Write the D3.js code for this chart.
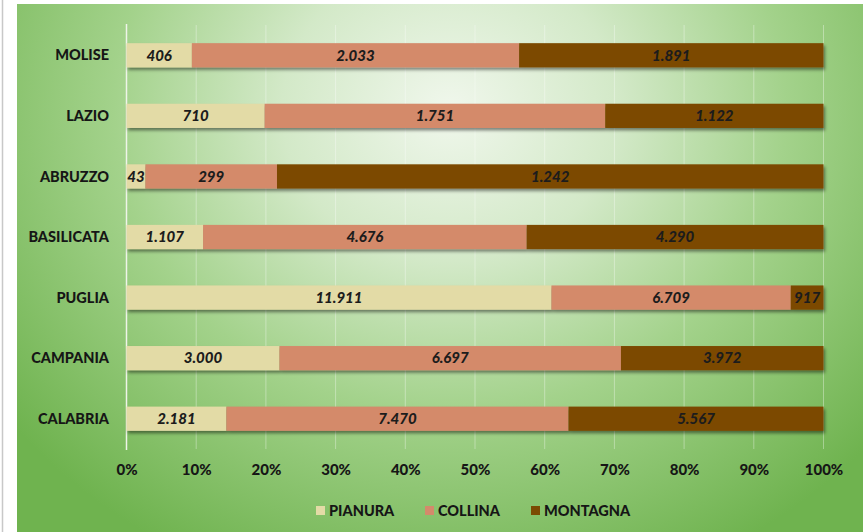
<!DOCTYPE html>
<html>
<head>
<meta charset="utf-8">
<script src="https://cdn.jsdelivr.net/npm/d3@7/dist/d3.min.js"></script>
<style>
  html, body { margin: 0; padding: 0; background: #ffffff; }
  svg { display: block; }
</style>
</head>
<body>
<svg id="chart" width="863" height="532"></svg>
<script>
// Regions, top to bottom
const regions = ["MOLISE", "LAZIO", "ABRUZZO", "BASILICATA", "PUGLIA", "CAMPANIA", "CALABRIA"];
// Surface by altitude zone
const pianura  = [406, 710, 43, 1107, 11911, 3000, 2181];
const collina  = [2033, 1751, 299, 4676, 6709, 6697, 7470];
const montagna = [1891, 1122, 1242, 4290, 917, 3972, 5567];
const seriesNames = ["PIANURA", "COLLINA", "MONTAGNA"];
const seriesColors = ["#e3dba6", "#d48a6b", "#7b4a02"];
const tickValues = [0, 0.1, 0.2, 0.3, 0.4, 0.5, 0.6, 0.7, 0.8, 0.9, 1];

const svg = d3.select("#chart");
const W = 863, H = 532;
const defs = svg.append("defs");
const FONT = "Lato, 'Open Sans', sans-serif";

// Green backdrop with a pale glow near the top centre
const bg = defs.append("radialGradient").attr("id", "bg")
  .attr("gradientUnits", "userSpaceOnUse")
  .attr("cx", 450).attr("cy", 110).attr("r", 560)
  .attr("gradientTransform", "translate(450,110) scale(1,0.9) translate(-450,-110)");
bg.append("stop").attr("offset", "0").attr("stop-color", "#f0f7ec");
bg.append("stop").attr("offset", "0.3").attr("stop-color", "#d3e9c8");
bg.append("stop").attr("offset", "0.6").attr("stop-color", "#a3d28b");
bg.append("stop").attr("offset", "1").attr("stop-color", "#6fb34f");

const shadow = defs.append("filter").attr("id", "shadow")
  .attr("x", "-5%").attr("y", "-30%").attr("width", "110%").attr("height", "180%");
shadow.append("feDropShadow").attr("dx", 1.5).attr("dy", 2.5).attr("stdDeviation", 1.8)
  .attr("flood-color", "#000").attr("flood-opacity", 0.45);

// page margin and panel
svg.append("rect").attr("width", W).attr("height", H).attr("fill", "#ffffff");
svg.append("line").attr("x1", 2.5).attr("x2", 2.5).attr("y1", 0).attr("y2", H)
  .attr("stroke", "#c8c8c8").attr("stroke-width", 1.5);
svg.append("rect").attr("x", 17).attr("y", 4).attr("width", W - 17).attr("height", H - 4)
  .attr("fill", "url(#bg)");

const x = d3.scaleLinear().domain([0, 1]).range([126.5, 823.5]);
const y = d3.scaleBand().domain(regions).range([25, 449]).paddingInner(0.6).paddingOuter(0.3);

// gridlines
svg.append("g").selectAll("line").data(tickValues.slice(1)).join("line")
  .attr("x1", d => x(d)).attr("x2", d => x(d))
  .attr("y1", 25).attr("y2", 449)
  .attr("stroke", "#ffffff").attr("stroke-opacity", 0.35).attr("stroke-width", 1);
svg.append("line").attr("x1", x(0)).attr("x2", x(0)).attr("y1", 24).attr("y2", 450)
  .attr("stroke", "#eef4e8").attr("stroke-width", 1.5);

// stacked shares
const rows = regions.map((r, i) => ({ region: r, PIANURA: pianura[i], COLLINA: collina[i], MONTAGNA: montagna[i] }));
const stack = d3.stack().keys(seriesNames).offset(d3.stackOffsetExpand);
const layers = stack(rows);

const barsG = svg.append("g");
barsG.selectAll("g.bar").data(rows).join("g").attr("class", "bar")
  .attr("filter", "url(#shadow)")
  .each(function (row, i) {
    d3.select(this).selectAll("rect").data(layers.map((L, k) => ({ seg: L[i], k }))).join("rect")
      .attr("x", d => x(d.seg[0]))
      .attr("width", d => x(d.seg[1]) - x(d.seg[0]))
      .attr("y", y(row.region))
      .attr("height", y.bandwidth())
      .attr("fill", d => seriesColors[d.k]);
  });

const fmt = v => v.toLocaleString("de-DE");
const labelsG = svg.append("g").attr("font-family", FONT)
  .attr("font-weight", 900).attr("font-style", "italic").attr("font-size", 15)
  .attr("fill", "#1c1c1c").attr("text-anchor", "middle");
layers.forEach((L, k) => {
  L.forEach((seg, i) => {
    labelsG.append("text")
      .attr("x", (x(seg[0]) + x(seg[1])) / 2)
      .attr("y", y(regions[i]) + y.bandwidth() / 2)
      .attr("dy", "0.35em")
      .text(fmt(seg.data[seriesNames[k]]));
  });
});

// category axis labels
svg.append("g").attr("font-family", FONT).attr("font-weight", 900)
  .attr("font-size", 14.5).attr("fill", "#161616").attr("text-anchor", "end")
  .selectAll("text").data(regions).join("text")
  .attr("x", 109).attr("y", d => y(d) + y.bandwidth() / 2).attr("dy", "0.35em")
  .text(d => d);

// percentage axis
const xAxis = d3.axisBottom(x).tickValues(tickValues).tickFormat(d3.format(".0%")).tickSize(0).tickPadding(0);
const ax = svg.append("g").attr("transform", "translate(0,470)").call(xAxis);
ax.select(".domain").remove();
ax.selectAll("text").attr("font-family", FONT).attr("font-weight", 900)
  .attr("font-size", 15).attr("fill", "#161616").attr("dy", "0.35em").attr("y", 0);

// legend
const legendX = [316, 425, 531];
const lg = svg.append("g").attr("font-family", FONT).attr("font-weight", 900)
  .attr("font-size", 14.5).attr("fill", "#161616");
seriesNames.forEach((s, k) => {
  lg.append("rect").attr("x", legendX[k]).attr("y", 506).attr("width", 9).attr("height", 9)
    .attr("fill", seriesColors[k]);
  lg.append("text").attr("x", legendX[k] + 13).attr("y", 511).attr("dy", "0.35em").text(s);
});
</script>
</body>
</html>
